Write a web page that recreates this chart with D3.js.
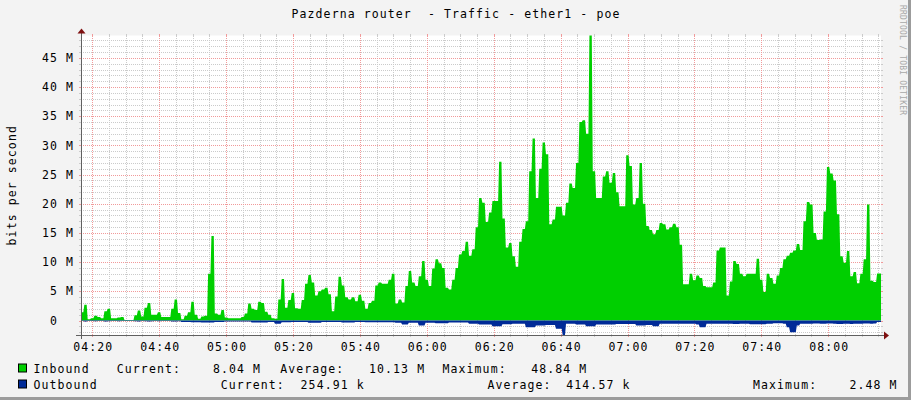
<!DOCTYPE html>
<html>
<head>
<meta charset="utf-8">
<script src="https://cdn.jsdelivr.net/npm/d3@7/dist/d3.min.js"></script>
<style>
  html, body { margin: 0; padding: 0; background: #f3f3f3; }
  svg { display: block; }
  text { font-family: "DejaVu Sans Mono", monospace; }
</style>
</head>
<body>
<svg id="chart"></svg>
<script>
'use strict';

const titleText = 'Pazderna router  - Traffic - ether1 - poe';
const yAxisTitle = 'bits per second';
const watermark = 'RRDTOOL / TOBI OETIKER';

// one sample per minute, first sample at 04:16:37
const startTime = new Date(2020, 0, 1, 4, 16, 37);
const endTime = new Date(2020, 0, 1, 8, 15, 47);

// Mbit/s
const inbound = [
  1.4, 2.7, 0.2, 0.4, 0.8, 0.6, 0.4, 1.6, 2.0, 0.4,
  0.4, 0.5, 0.6, 0.1, 0.1, 0.1, 0.9, 1.7, 0.7, 2.2,
  3.0, 1.0, 1.0, 1.4, 0.6, 0.6, 0.6, 2.0, 3.6, 1.3,
  0.2, 0.8, 1.4, 3.2, 1.0, 0.3, 0.7, 0.8, 8.0, 14.5,
  1.2, 1.0, 1.8, 0.5, 0.4, 0.4, 0.4, 0.4, 0.6, 1.2,
  2.9, 2.0, 1.8, 3.2, 3.0, 1.5, 1.0, 0.4, 0.3, 3.6,
  7.1, 2.2, 3.5, 4.7, 2.1, 2.0, 3.5, 6.3, 7.8, 6.5,
  4.3, 5.0, 5.3, 5.6, 4.5, 1.6, 4.1, 7.5, 6.0, 4.0,
  3.6, 4.0, 3.3, 4.4, 3.4, 2.0, 3.0, 3.4, 6.0, 6.5,
  6.3, 6.3, 7.0, 8.0, 2.9, 3.6, 3.1, 5.9, 8.5, 6.5,
  5.9, 7.6, 10.2, 7.0, 5.9, 8.9, 10.5, 9.8, 9.0, 5.6,
  5.3, 7.0, 9.0, 11.3, 11.9, 13.5, 11.1, 12.2, 16.0, 21.0,
  20.2, 16.9, 18.5, 20.5, 20.5, 27.2, 17.5, 12.5, 13.3, 11.0,
  9.2, 13.5, 15.7, 17.0, 25.6, 31.2, 21.0, 26.0, 30.5, 28.5,
  16.5, 17.3, 19.5, 19.5, 18.0, 20.2, 23.5, 22.7, 27.0, 34.0,
  34.3, 32.0, 48.84, 25.6, 21.0, 21.0, 24.7, 25.6, 23.6, 25.3,
  22.0, 19.6, 19.6, 28.3, 26.5, 19.9, 21.0, 27.0, 20.0, 16.2,
  15.5, 14.8, 15.5, 16.7, 16.5, 15.6, 16.0, 16.6, 16.0, 13.0,
  6.2, 6.2, 8.0, 6.9, 7.7, 7.3, 5.9, 5.7, 5.7, 6.5,
  12.0, 12.5, 12.5, 4.3, 6.7, 10.2, 9.7, 8.0, 7.6, 8.0,
  8.0, 8.0, 10.6, 7.0, 4.9, 8.0, 7.3, 6.3, 7.7, 9.0,
  10.5, 11.1, 11.6, 12.0, 13.1, 12.1, 17.0, 20.3, 19.9, 15.0,
  13.8, 13.9, 18.7, 26.3, 25.2, 24.0, 18.2, 11.0, 9.9, 11.9,
  7.6, 8.3, 6.4, 8.0, 10.5, 19.9, 6.8, 6.6, 8.04
];

const outbound = [
  0.1, 0.15, 0.1, 0.1, 0.12, 0.1, 0.1, 0.15, 0.12, 0.1,
  0.1, 0.12, 0.1, 0.1, 0.1, 0.1, 0.12, 0.15, 0.1, 0.12,
  0.15, 0.12, 0.1, 0.12, 0.1, 0.1, 0.1, 0.15, 0.15, 0.12,
  0.25, 0.25, 0.25, 0.3, 0.3, 0.3, 0.35, 0.35, 0.35, 0.35,
  0.25, 0.25, 0.25, 0.15, 0.15, 0.15, 0.15, 0.15, 0.15, 0.15,
  0.15, 0.35, 0.35, 0.35, 0.35, 0.35, 0.25, 0.25, 0.55, 0.55,
  0.3, 0.3, 0.3, 0.25, 0.25, 0.25, 0.25, 0.25, 0.4, 0.4,
  0.4, 0.4, 0.25, 0.25, 0.25, 0.25, 0.25, 0.25, 0.35, 0.35,
  0.35, 0.35, 0.25, 0.25, 0.25, 0.3, 0.3, 0.3, 0.3, 0.3,
  0.3, 0.3, 0.3, 0.3, 0.4, 0.4, 0.7, 0.7, 0.4, 0.4,
  0.4, 0.85, 0.85, 0.4, 0.4, 0.4, 0.46, 0.46, 0.46, 0.46,
  0.35, 0.35, 0.35, 0.35, 0.35, 0.35, 0.57, 0.57, 0.57, 0.7,
  0.7, 0.7, 0.7, 1.0, 1.0, 1.0, 0.65, 0.65, 0.65, 0.57,
  0.57, 0.57, 0.57, 1.14, 1.14, 1.14, 0.86, 0.86, 0.86, 0.75,
  0.75, 0.75, 1.43, 1.43, 2.48, 0.57, 0.57, 0.57, 0.68, 0.68,
  0.68, 0.97, 0.97, 0.97, 0.68, 0.68, 0.68, 0.68, 0.68, 0.68,
  0.6, 0.6, 0.6, 0.6, 0.6, 0.6, 0.86, 0.86, 0.86, 0.75,
  0.75, 1.0, 1.0, 0.57, 0.57, 0.57, 0.57, 0.57, 0.57, 0.57,
  0.57, 0.57, 0.57, 0.57, 0.68, 1.14, 1.14, 0.55, 0.55, 0.55,
  0.55, 0.55, 0.55, 0.55, 0.55, 0.6, 0.6, 0.55, 0.55, 0.55,
  0.62, 0.62, 0.62, 0.62, 0.62, 0.55, 0.55, 0.46, 0.46, 0.46,
  0.55, 1.14, 2.0, 2.0, 0.86, 0.55, 0.55, 0.55, 0.55, 0.5,
  0.5, 0.55, 0.55, 0.5, 0.5, 0.55, 0.6, 0.6, 0.55, 0.55,
  0.6, 0.55, 0.55, 0.55, 0.5, 0.5, 0.55, 0.5, 0.25
];

const yTicks = [0, 5, 10, 15, 20, 25, 30, 35, 40, 45];
const xTickLabels = ['04:20', '04:40', '05:00', '05:20', '05:40', '06:00',
                     '06:20', '06:40', '07:00', '07:20', '07:40', '08:00'];

const seriesNames = ['Inbound', 'Outbound'];
const seriesColors = ['#00cf00', '#002a97'];
const inboundStats = ['Current:', '8.04 M', 'Average:', '10.13 M', 'Maximum:', '48.84 M'];
const outboundStats = ['Current:', '254.91 k', 'Average:', '414.57 k', 'Maximum:', '2.48 M'];

const W = 911, H = 400;
const plot = { left: 81, right: 881, top: 35.5, bottom: 335 };

const svg = d3.select('#chart').attr('width', W).attr('height', H);

svg.append('rect').attr('width', W).attr('height', H).attr('fill', '#f3f3f3');
svg.append('rect').attr('x', W - 3).attr('width', 3).attr('height', H).attr('fill', '#9c9c9c');
svg.append('rect').attr('y', H - 3).attr('width', W).attr('height', 3).attr('fill', '#9c9c9c');

const x = d3.scaleTime()
    .domain([startTime, endTime])
    .range([plot.left, plot.right]);

const y = d3.scaleLinear()
    .domain([-2.48, 48.84])
    .range([plot.bottom, plot.top]);

const sampleTime = (i, sec = 0) => new Date(startTime.getTime() + i * 60000 + sec * 1000);

svg.append('rect')
    .attr('x', plot.left)
    .attr('y', plot.top)
    .attr('width', plot.right - plot.left)
    .attr('height', plot.bottom - plot.top)
    .attr('fill', '#fff');

// grid
const grid = svg.append('g').attr('shape-rendering', 'crispEdges');
const minorGrid = '#cbcbcb', majorGrid = '#f19a9a';

const parseHM = s => {
  const [h, m] = s.split(':').map(Number);
  return new Date(2020, 0, 1, h, m, 0);
};
const majorTimes = xTickLabels.map(parseHM);
const minorTimes = d3.timeMinute.every(5).range(startTime, endTime)
    .filter(t => t.getMinutes() % 20 !== 0);

const minorVals = d3.range(-2, 49).filter(v => v % 5 !== 0);

const vLines = (times, color) => {
  const px = d => Math.round(x(d)) + 0.5;
  grid.selectAll(null).data(times).enter().append('line')
      .attr('x1', px).attr('x2', px)
      .attr('y1', plot.top).attr('y2', plot.bottom)
      .attr('stroke', color).attr('stroke-dasharray', '1,1');
  grid.selectAll(null).data(times).enter().append('line')
      .attr('x1', px).attr('x2', px)
      .attr('y1', plot.top - 2).attr('y2', plot.top)
      .attr('stroke', color);
  grid.selectAll(null).data(times).enter().append('line')
      .attr('x1', px).attr('x2', px)
      .attr('y1', plot.bottom).attr('y2', plot.bottom + 2)
      .attr('stroke', color);
};
const hLines = (vals, color) => {
  const py = d => Math.round(y(d)) + 0.5;
  grid.selectAll(null).data(vals).enter().append('line')
      .attr('x1', plot.left).attr('x2', plot.right)
      .attr('y1', py).attr('y2', py)
      .attr('stroke', color).attr('stroke-dasharray', '1,1');
  grid.selectAll(null).data(vals).enter().append('line')
      .attr('x1', plot.left - 2).attr('x2', plot.left)
      .attr('y1', py).attr('y2', py)
      .attr('stroke', color);
  grid.selectAll(null).data(vals).enter().append('line')
      .attr('x1', plot.right).attr('x2', plot.right + 2)
      .attr('y1', py).attr('y2', py)
      .attr('stroke', color);
};
vLines(minorTimes, minorGrid);
hLines(minorVals, minorGrid);
vLines(majorTimes, majorGrid);
hLines(yTicks, majorGrid);

// data: each minute is flat, with a short ramp into the next sample
svg.append('clipPath').attr('id', 'clip')
  .append('rect')
    .attr('x', plot.left).attr('y', plot.top - 1)
    .attr('width', plot.right - plot.left).attr('height', plot.bottom - plot.top + 1);

const toPoints = arr => arr.flatMap((v, i) => [
  { t: sampleTime(i), v },
  { t: sampleTime(i, 42), v }
]).concat([{ t: endTime, v: arr[arr.length - 1] }]);

const inArea = d3.area()
    .x(d => x(d.t))
    .y0(y(0))
    .y1(d => y(d.v));

const outArea = d3.area()
    .x(d => x(d.t))
    .y0(y(0))
    .y1(d => y(-d.v));

const dataG = svg.append('g').attr('clip-path', 'url(#clip)');
dataG.append('path').datum(toPoints(inbound))
    .attr('d', inArea).attr('fill', seriesColors[0]);
dataG.append('path').datum(toPoints(outbound))
    .attr('d', outArea).attr('fill', seriesColors[1]);

// axes
const axisColor = '#606060', arrowColor = '#7f1010';
svg.append('line')
    .attr('x1', plot.left - 5).attr('x2', plot.right + 4)
    .attr('y1', plot.bottom + 0.5).attr('y2', plot.bottom + 0.5)
    .attr('stroke', axisColor).attr('shape-rendering', 'crispEdges');
svg.append('line')
    .attr('x1', plot.left + 0.5).attr('x2', plot.left + 0.5)
    .attr('y1', plot.bottom + 4).attr('y2', plot.top - 4)
    .attr('stroke', axisColor).attr('shape-rendering', 'crispEdges');
svg.append('path')
    .attr('d', `M${plot.right + 3},${plot.bottom - 3.5} L${plot.right + 8},${plot.bottom + 0.5} L${plot.right + 3},${plot.bottom + 4.5} Z`)
    .attr('fill', arrowColor);
svg.append('path')
    .attr('d', `M${plot.left - 3.5},${plot.top - 2} L${plot.left + 0.5},${plot.top - 7} L${plot.left + 4.5},${plot.top - 2} Z`)
    .attr('fill', arrowColor);

// labels
const fontSize = 11.5, spacing = 1.1;
const charW = fontSize * 0.602 + spacing;
const label = (g, txt) => g.append('text')
    .attr('font-size', fontSize)
    .attr('letter-spacing', spacing)
    .attr('fill', '#000')
    .text(txt);

// the unit column stays empty for 0, so the digit lines up with the others
svg.selectAll('.ylab').data(yTicks).enter().append('text')
    .attr('class', 'ylab')
    .attr('x', d => d === 0 ? 74 - 2 * charW : 74)
    .attr('y', d => y(d))
    .attr('dy', '0.36em')
    .attr('text-anchor', 'end')
    .attr('font-size', fontSize)
    .attr('letter-spacing', spacing)
    .text(d => d === 0 ? '0' : `${d} M`);

svg.selectAll('.xlab').data(xTickLabels).enter().append('text')
    .attr('class', 'xlab')
    .attr('x', d => x(parseHM(d)) + 1)
    .attr('y', 350.5)
    .attr('text-anchor', 'middle')
    .attr('font-size', fontSize)
    .attr('letter-spacing', spacing)
    .text(d => d);

label(svg, titleText)
    .style('white-space', 'pre')
    .attr('x', 456).attr('y', 18).attr('text-anchor', 'middle');

label(svg, yAxisTitle)
    .attr('text-anchor', 'middle')
    .attr('transform', `translate(16, ${(plot.top + plot.bottom) / 2}) rotate(-90)`);

svg.append('text')
    .attr('transform', 'translate(900, 5) rotate(90)')
    .attr('font-size', 8)
    .attr('letter-spacing', 0.2)
    .attr('fill', '#a8a8a8')
    .text(watermark);

// legend
const legendRows = [
  { name: seriesNames[0], color: seriesColors[0], stats: inboundStats, y: 372.5,
    xs: [116.8, 213, 280.2, 369, 442.5, 531.2] },
  { name: seriesNames[1], color: seriesColors[1], stats: outboundStats, y: 388.5,
    xs: [220.7, 300.6, 487.4, 566.3, 753, 849.4] }
];
legendRows.forEach(r => {
  svg.append('rect')
      .attr('x', 18.5).attr('y', r.y - 8.5)
      .attr('width', 8).attr('height', 8)
      .attr('fill', r.color).attr('stroke', '#000');
  label(svg, r.name).attr('x', 33.5).attr('y', r.y);
  r.stats.forEach((s, i) => label(svg, s).attr('x', r.xs[i]).attr('y', r.y));
});
</script>
</body>
</html>
